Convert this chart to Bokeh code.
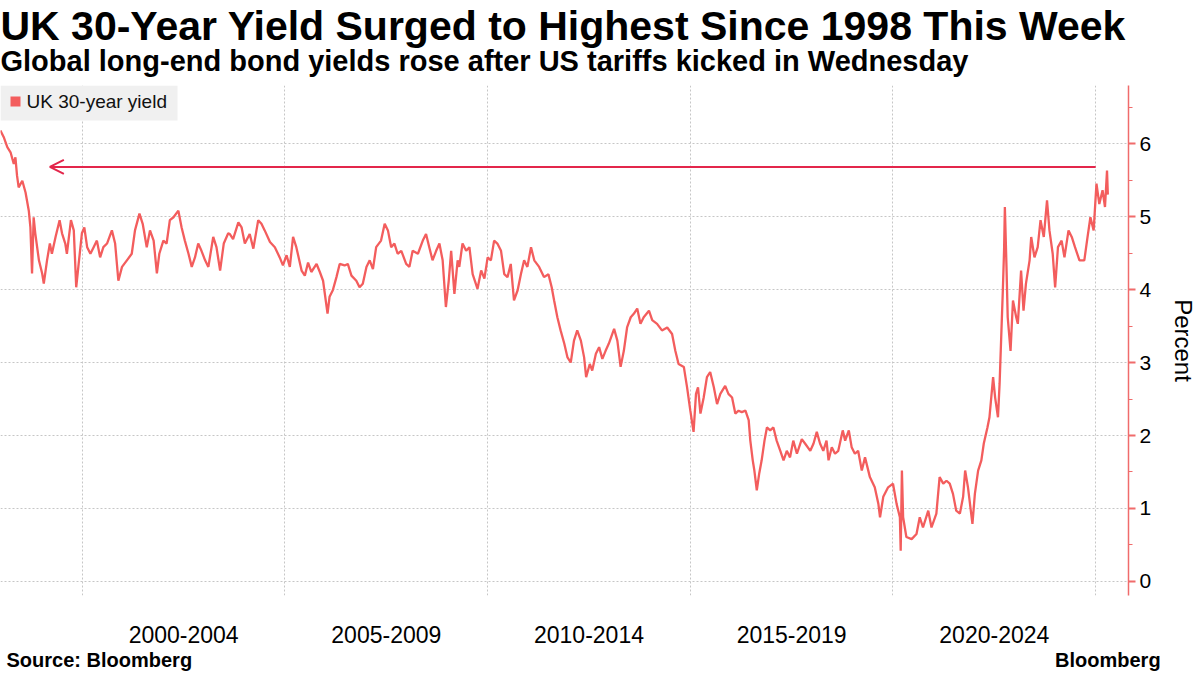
from bokeh.plotting import figure
from bokeh.models import (FixedTicker, Range1d, Arrow, OpenHead, Label, Title, BoxAnnotation, LinearAxis)
from bokeh.embed import file_html
from bokeh.resources import INLINE

# ---------------- texts ----------------
title_text = "UK 30-Year Yield Surged to Highest Since 1998 This Week"
subtitle_text = "Global long-end bond yields rose after US tariffs kicked in Wednesday"
source_text = "Source: Bloomberg"
brand_text = "Bloomberg"
series_name = "UK 30-year yield"
axis_title = "Percent"

# ---------------- axes ----------------
period_centers = [2002.5, 2007.5, 2012.5, 2017.5, 2022.5]
period_labels = ["2000-2004", "2005-2009", "2010-2014", "2015-2019", "2020-2024"]
period_bounds = [2000, 2005, 2010, 2015, 2020, 2025]
y_ticks = [0, 1, 2, 3, 4, 5, 6]
y_minor = [0.5, 1.5, 2.5, 3.5, 4.5, 5.5, 6.5]

# ---------------- data (decimal year, percent) ----------------
dates_1998_2003 = [
    1997.98, 1998.06, 1998.15, 1998.23, 1998.31, 1998.35, 1998.39, 1998.43, 1998.52, 1998.60,
    1998.68, 1998.72, 1998.76, 1998.80, 1998.84, 1998.93, 1999.01, 1999.05, 1999.13, 1999.20,
    1999.25, 1999.34, 1999.44, 1999.50, 1999.58, 1999.62, 1999.72, 1999.79, 1999.85, 1999.91,
    1999.99, 2000.05, 2000.12, 2000.20, 2000.28, 2000.36, 2000.44, 2000.52, 2000.61, 2000.73,
    2000.81, 2000.89, 2000.98, 2001.10, 2001.22, 2001.30, 2001.41, 2001.49, 2001.59, 2001.67,
    2001.76, 2001.84, 2001.90, 2002.00, 2002.08, 2002.16, 2002.25, 2002.37, 2002.45, 2002.53,
    2002.62, 2002.70, 2002.78, 2002.86, 2002.94, 2003.03, 2003.11, 2003.23, 2003.31, 2003.40,
    2003.49, 2003.60]
yields_1998_2003 = [
    6.18, 6.09, 5.95, 5.88, 5.72, 5.81, 5.56, 5.40, 5.49, 5.33,
    5.08, 4.85, 4.22, 4.99, 4.77, 4.40, 4.22, 4.08, 4.40, 4.63,
    4.49, 4.72, 4.95, 4.77, 4.63, 4.49, 4.95, 4.81, 4.03, 4.35,
    4.77, 4.85, 4.58, 4.49, 4.58, 4.67, 4.44, 4.58, 4.63, 4.81,
    4.63, 4.12, 4.31, 4.40, 4.49, 4.81, 5.04, 4.90, 4.58, 4.81,
    4.67, 4.22, 4.49, 4.67, 4.63, 4.95, 4.99, 5.08, 4.85, 4.67,
    4.49, 4.31, 4.44, 4.63, 4.53, 4.40, 4.31, 4.72, 4.58, 4.26,
    4.63, 4.77]

dates_2003_2009 = [
    2003.64, 2003.72, 2003.85, 2003.93, 2004.01, 2004.13, 2004.22, 2004.34, 2004.42, 2004.50,
    2004.63, 2004.75, 2004.87, 2004.95, 2005.04, 2005.12, 2005.20, 2005.28, 2005.41, 2005.49,
    2005.57, 2005.65, 2005.78, 2005.86, 2005.94, 2006.05, 2006.10, 2006.18, 2006.27, 2006.35,
    2006.47, 2006.55, 2006.64, 2006.76, 2006.84, 2006.92, 2007.01, 2007.09, 2007.17, 2007.25,
    2007.37, 2007.46, 2007.54, 2007.62, 2007.70, 2007.78, 2007.87, 2007.99, 2008.07, 2008.15,
    2008.28, 2008.40, 2008.48, 2008.56, 2008.64, 2008.73, 2008.81, 2008.89, 2008.97, 2009.04,
    2009.10, 2009.18, 2009.26]
yields_2003_2009 = [
    4.76, 4.69, 4.92, 4.85, 4.63, 4.76, 4.56, 4.95, 4.90, 4.81,
    4.65, 4.58, 4.44, 4.33, 4.47, 4.31, 4.72, 4.58, 4.26, 4.19,
    4.37, 4.24, 4.35, 4.24, 4.12, 3.67, 3.90, 3.99, 4.17, 4.35,
    4.33, 4.35, 4.19, 4.12, 4.03, 4.08, 4.31, 4.40, 4.28, 4.58,
    4.67, 4.90, 4.81, 4.58, 4.63, 4.49, 4.53, 4.35, 4.31, 4.53,
    4.49, 4.67, 4.76, 4.58, 4.40, 4.53, 4.63, 4.40, 3.76, 4.12,
    4.53, 3.94, 4.40]

dates_2009_2014 = [
    2009.30, 2009.38, 2009.47, 2009.55, 2009.63, 2009.75, 2009.84, 2009.92, 2010.00, 2010.08,
    2010.16, 2010.24, 2010.33, 2010.41, 2010.49, 2010.57, 2010.65, 2010.74, 2010.82, 2010.90,
    2010.98, 2011.07, 2011.15, 2011.27, 2011.39, 2011.50, 2011.58, 2011.64, 2011.72, 2011.80,
    2011.89, 2011.97, 2012.05, 2012.13, 2012.21, 2012.30, 2012.38, 2012.43, 2012.52, 2012.58,
    2012.67, 2012.75, 2012.83, 2012.91, 2012.99, 2013.12, 2013.20, 2013.28, 2013.36, 2013.44,
    2013.53, 2013.61, 2013.69, 2013.77, 2013.85, 2013.98, 2014.06, 2014.18, 2014.30, 2014.43,
    2014.55, 2014.63]
yields_2009_2014 = [
    4.31, 4.63, 4.53, 4.58, 4.21, 4.01, 4.26, 4.15, 4.44, 4.40,
    4.67, 4.63, 4.53, 4.21, 4.17, 4.35, 3.85, 3.99, 4.21, 4.40,
    4.31, 4.58, 4.40, 4.31, 4.17, 4.21, 4.03, 3.85, 3.62, 3.44,
    3.26, 3.07, 3.00, 3.30, 3.44, 3.30, 3.07, 2.80, 2.98, 2.89,
    3.12, 3.21, 3.05, 3.16, 3.26, 3.46, 3.30, 2.94, 3.16, 3.48,
    3.62, 3.67, 3.74, 3.53, 3.62, 3.71, 3.58, 3.53, 3.44, 3.48,
    3.39, 3.16]

dates_2014_2019 = [
    2014.71, 2014.84, 2014.92, 2015.00, 2015.08, 2015.14, 2015.19, 2015.25, 2015.33, 2015.41,
    2015.49, 2015.58, 2015.66, 2015.74, 2015.86, 2015.94, 2016.03, 2016.11, 2016.19, 2016.27,
    2016.36, 2016.44, 2016.48, 2016.54, 2016.58, 2016.64, 2016.70, 2016.76, 2016.83, 2016.89,
    2016.97, 2017.05, 2017.13, 2017.22, 2017.30, 2017.38, 2017.46, 2017.54, 2017.63, 2017.75,
    2017.83, 2017.96, 2018.04, 2018.12, 2018.20, 2018.28, 2018.36, 2018.41, 2018.49, 2018.57,
    2018.65, 2018.76, 2018.82, 2018.91, 2018.98, 2019.06]
yields_2014_2019 = [
    2.98, 2.94, 2.66, 2.34, 2.05, 2.57, 2.66, 2.30, 2.52, 2.80,
    2.87, 2.66, 2.43, 2.57, 2.68, 2.57, 2.52, 2.30, 2.34, 2.32,
    2.34, 2.21, 1.93, 1.66, 1.52, 1.25, 1.48, 1.66, 1.93, 2.11,
    2.07, 2.11, 1.93, 1.79, 1.66, 1.79, 1.70, 1.93, 1.75, 1.95,
    1.89, 1.79, 1.89, 2.05, 1.89, 1.79, 1.93, 1.66, 1.84, 1.75,
    1.79, 2.07, 1.93, 2.07, 1.84, 1.75]

dates_2019_2025 = [
    2019.14, 2019.23, 2019.31, 2019.43, 2019.55, 2019.64, 2019.68, 2019.76, 2019.88, 2020.00,
    2020.09, 2020.17, 2020.19, 2020.22, 2020.25, 2020.33, 2020.46, 2020.58, 2020.66, 2020.74,
    2020.87, 2020.95, 2021.07, 2021.15, 2021.24, 2021.32, 2021.40, 2021.48, 2021.56, 2021.65,
    2021.73, 2021.78, 2021.85, 2021.92, 2021.96, 2022.02, 2022.10, 2022.18, 2022.24, 2022.33,
    2022.38, 2022.47, 2022.52, 2022.59, 2022.63, 2022.67, 2022.71, 2022.74, 2022.76, 2022.80,
    2022.83, 2022.90, 2022.96, 2023.04, 2023.08, 2023.16, 2023.22, 2023.28, 2023.37, 2023.41,
    2023.49, 2023.57, 2023.64, 2023.72, 2023.80, 2023.86, 2023.94, 2024.00, 2024.07, 2024.16,
    2024.23, 2024.33, 2024.41, 2024.49, 2024.60, 2024.72, 2024.80, 2024.87, 2024.95, 2025.02,
    2025.09, 2025.17, 2025.23, 2025.28, 2025.30]
yields_2019_2025 = [
    1.79, 1.52, 1.70, 1.43, 1.29, 1.06, 0.88, 1.16, 1.29, 1.34,
    1.06, 0.88, 0.42, 1.52, 0.88, 0.61, 0.58, 0.65, 0.88, 0.74,
    0.97, 0.74, 0.93, 1.43, 1.34, 1.38, 1.34, 1.20, 0.97, 0.93,
    1.16, 1.52, 1.29, 0.97, 0.79, 1.20, 1.52, 1.66, 1.89, 2.11,
    2.25, 2.80, 2.52, 2.25, 2.71, 3.35, 3.99, 4.53, 5.13, 4.31,
    3.62, 3.16, 3.85, 3.62, 3.53, 4.26, 3.71, 4.08, 4.40, 4.72,
    4.44, 4.58, 4.95, 4.72, 5.22, 4.81, 4.49, 4.03, 4.58, 4.67,
    4.44, 4.81, 4.72, 4.58, 4.40, 4.40, 4.72, 4.99, 4.81, 5.45,
    5.17, 5.36, 5.13, 5.63, 5.30]

# horizontal arrow: from the latest high back to the matching 1998 level
peak_level = 5.68
arrow_from = 2025.0
arrow_to = 1999.2

# footer text anchors (x positions along the time axis)
footer_anchor = [2000.42, 2025.3]
footer_texts = [source_text, brand_text]

dates = dates_1998_2003 + dates_2003_2009 + dates_2009_2014 + dates_2014_2019 + dates_2019_2025
yields = yields_1998_2003 + yields_2003_2009 + yields_2009_2014 + yields_2014_2019 + yields_2019_2025
assert len(dates) == len(yields)

# ---------------- styling ----------------
LINE = "#f35d5d"
ARROW = "#e3264b"
AXIS = "#f06b6b"
GRID = "#c6c6c6"
FONT = "Liberation Sans"

W, H = 1200, 675

p = figure(width=W, height=H, output_backend="svg", toolbar_location=None, title=None,
           x_range=Range1d(1997.982, 2025.81), y_range=Range1d(-0.192, 6.795),
           y_axis_location="right", min_border_left=0, min_border_right=67,
           min_border_top=85, min_border_bottom=80)
p.outline_line_color = None
p.background_fill_color = "white"
p.border_fill_color = "white"

# titles (first added sits next to the plot)
p.add_layout(Title(text=subtitle_text, text_font=FONT, text_font_size="29px",
                   text_font_style="bold", text_color="#000000", align="left",
                   vertical_align="top", offset=0, standoff=14), "above")
p.add_layout(Title(text=title_text, text_font=FONT, text_font_size="41px",
                   text_font_style="bold", text_color="#000000", align="left",
                   offset=0, standoff=-22), "above")

# grids
p.xgrid.ticker = FixedTicker(ticks=period_bounds)
p.ygrid.ticker = FixedTicker(ticks=y_ticks)
for g in (p.xgrid[0], p.ygrid[0]):
    g.grid_line_color = GRID
    g.grid_line_dash = "2 2"
    g.grid_line_width = 1

# x axis
xa = p.xaxis[0]
xa.ticker = FixedTicker(ticks=period_centers)
xa.major_label_overrides = dict(zip(period_centers, period_labels))
xa.axis_line_color = None
xa.major_tick_line_color = None
xa.minor_tick_line_color = None
xa.major_tick_out = 0
xa.major_tick_in = 0
xa.minor_tick_out = 0
xa.major_label_standoff = 30
xa.major_label_text_font = FONT
xa.major_label_text_font_size = "23px"
xa.major_label_text_color = "#000000"

# footer row: source (left) and brand (right), as labels of a second bottom axis
fa = LinearAxis(ticker=FixedTicker(ticks=footer_anchor),
                major_label_overrides=dict(zip(footer_anchor, footer_texts)),
                axis_line_color=None, major_tick_line_color=None, minor_tick_line_color=None,
                major_tick_out=0, major_tick_in=0, minor_tick_out=0, minor_tick_in=0,
                major_label_standoff=3, major_label_text_font=FONT,
                major_label_text_font_size="20px", major_label_text_font_style="bold",
                major_label_text_color="#000000")
p.add_layout(fa, "below")

# y axis
ya = p.yaxis[0]
ya.ticker = FixedTicker(ticks=y_ticks, minor_ticks=y_minor)
ya.axis_line_color = AXIS
ya.axis_line_width = 1.5
ya.major_tick_line_color = AXIS
ya.major_tick_line_width = 2
ya.major_tick_out = 7
ya.major_tick_in = 0
ya.minor_tick_line_color = AXIS
ya.minor_tick_out = 4
ya.minor_tick_in = 0
ya.major_label_standoff = 4
ya.major_label_text_font = FONT
ya.major_label_text_font_size = "21px"
ya.major_label_text_color = "#000000"
ya.axis_label = axis_title
ya.axis_label_text_font = FONT
ya.axis_label_text_font_size = "24px"
ya.axis_label_text_font_style = "normal"
ya.axis_label_text_color = "#000000"
ya.axis_label_standoff = 16

# series
p.line(dates, yields, line_color=LINE, line_width=2.3)

# legend (box, swatch and label in the top-left corner of the frame)
p.add_layout(BoxAnnotation(left=0, right=177, top=85, bottom=120,
                           left_units="canvas", right_units="canvas",
                           top_units="canvas", bottom_units="canvas",
                           fill_color="#f0f0f0", fill_alpha=1.0, line_color=None))
p.add_layout(BoxAnnotation(left=10, right=20, top=96, bottom=106,
                           left_units="canvas", right_units="canvas",
                           top_units="canvas", bottom_units="canvas",
                           fill_color=LINE, fill_alpha=1.0, line_color=None))
p.add_layout(Label(x=26, y=101, x_units="canvas", y_units="canvas", text=series_name,
                   text_font=FONT, text_font_size="19px", text_color="#111111",
                   text_baseline="middle"))

# arrow
p.add_layout(Arrow(end=OpenHead(size=14, line_color=ARROW, line_width=2),
                   x_start=arrow_from, y_start=peak_level, x_end=arrow_to, y_end=peak_level,
                   line_color=ARROW, line_width=2))

open("out.html", "w").write(file_html(p, INLINE))
